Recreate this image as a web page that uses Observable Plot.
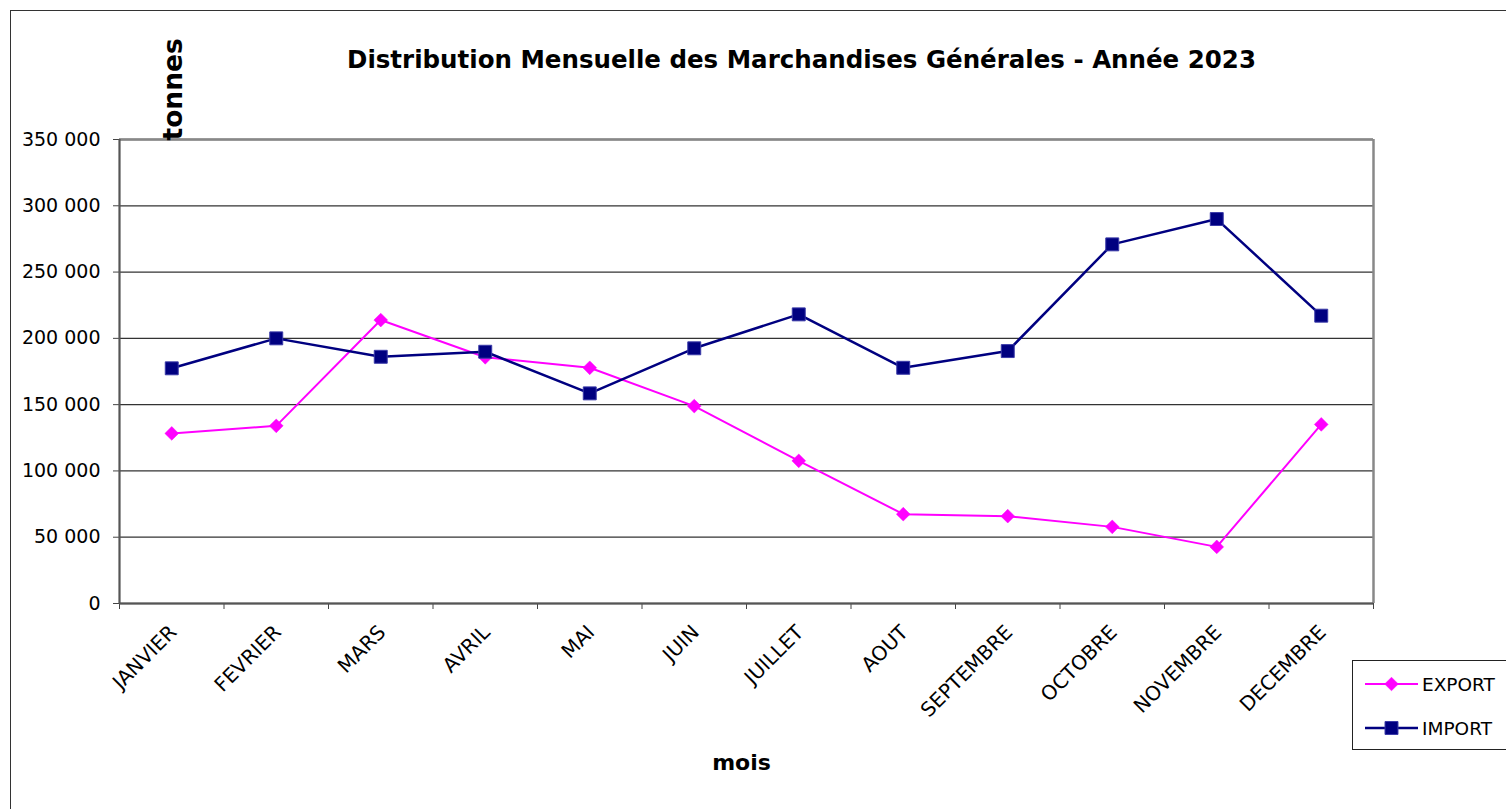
<!DOCTYPE html>
<html><head><meta charset="utf-8">
<script src="https://cdn.jsdelivr.net/npm/d3@7"></script>
<script src="https://cdn.jsdelivr.net/npm/@observablehq/plot@0.6"></script>
<style>
html,body{margin:0;padding:0;background:#fff;overflow:hidden;width:1506px;height:809px;font-family:"DejaVu Sans",sans-serif;}
#frame{position:absolute;left:10px;top:10px;width:1600px;height:900px;border:1px solid #333;}
#chart{position:absolute;left:0;top:0;}
#legend{position:absolute;left:1352px;top:660px;width:170px;height:88px;border:1px solid #222;background:#fff;}
</style></head><body>
<div id="frame"></div><div id="chart"></div><div id="legend"></div>
<script>
const months = ["JANVIER","FEVRIER","MARS","AVRIL","MAI","JUIN","JUILLET","AOUT","SEPTEMBRE","OCTOBRE","NOVEMBRE","DECEMBRE"];
const exportValues = [128300,134000,213800,185700,177800,148900,107600,67400,65900,57800,42700,135100];
const importValues = [177400,200000,186100,189900,158500,192500,218100,177800,190400,270900,290000,217100];
const yTicks = [0,50000,100000,150000,200000,250000,300000,350000];
const seriesNames = ["EXPORT","IMPORT"];
const seriesColors = ["#FF00FF","#000080"];
const chartTitle = "Distribution Mensuelle des Marchandises Générales - Année 2023";
const yLabel = "tonnes";
const xLabel = "mois";

const fmt = v => d3.format(",")(v).replace(/,/g, " ");
const exportRows = months.map((m,i)=>({month:m, pos:i+0.5, value:exportValues[i]}));
const importRows = months.map((m,i)=>({month:m, pos:i+0.5, value:importValues[i]}));

const chart = Plot.plot({
  width:1506, height:809,
  marginLeft:119, marginTop:139, marginRight:133, marginBottom:206,
  style:{fontFamily:"'DejaVu Sans', sans-serif", background:"transparent", overflow:"visible", color:"#000"},
  x:{type:"linear", domain:[0, months.length]},
  y:{domain:[0, 350000]},
  marks:[
    Plot.gridY(yTicks, {stroke:"#333", strokeOpacity:1, strokeWidth:1.3}),
    Plot.ruleY([350000], {stroke:"#888", strokeWidth:2.5}),
    Plot.ruleX([months.length], {stroke:"#888", strokeWidth:2.5}),
    Plot.axisY({ticks:yTicks, tickFormat:fmt, tickSize:6, tickPadding:13, fontSize:19, label:null, stroke:"#444"}),
    Plot.axisX({ticks:d3.range(months.length+1), tickFormat:()=>"", tickSize:6, label:null, stroke:"#444"}),
    Plot.ruleX([0], {stroke:"#555", strokeWidth:2.2}),
    Plot.ruleY([0], {stroke:"#555", strokeWidth:2.2}),
    Plot.text(months, {x:(d,i)=>i+0.5, text:d=>d, frameAnchor:"bottom", rotate:-45, textAnchor:"end", lineAnchor:"bottom", dx:6, dy:30, fontSize:20, fill:"#000"}),
    Plot.line(exportRows, {x:"pos", y:"value", stroke:seriesColors[0], strokeWidth:2}),
    Plot.line(importRows, {x:"pos", y:"value", stroke:seriesColors[1], strokeWidth:2.5}),
    Plot.dot(exportRows, {x:"pos", y:"value", symbol:"diamond2", r:6.2, fill:seriesColors[0], stroke:seriesColors[0], strokeWidth:0.5}),
    Plot.dot(importRows, {x:"pos", y:"value", symbol:"square", r:7.3, fill:seriesColors[1], stroke:"#3a3aa8", strokeWidth:1}),
    Plot.text([chartTitle], {text:d=>d, frameAnchor:"top", textAnchor:"middle", lineAnchor:"bottom", dx:55, dy:-72, fontSize:24.5, fontWeight:"bold", fill:"#000"}),
    Plot.text([yLabel], {text:d=>d, frameAnchor:"top-left", rotate:-90, textAnchor:"start", lineAnchor:"bottom", dx:62, dy:1, fontSize:26.5, fontWeight:"bold", fill:"#000"}),
    Plot.text([xLabel], {text:d=>d, frameAnchor:"bottom", textAnchor:"middle", lineAnchor:"bottom", dx:-5, dy:166, fontSize:22, fontWeight:"bold", fill:"#000"})
  ]
});
document.getElementById("chart").append(chart);

// legend
const leg = d3.select("#legend").append("svg").attr("width",170).attr("height",88)
  .style("font-family","'DejaVu Sans', sans-serif");
const symbols = [d3.symbolDiamond2, d3.symbolSquare];
const sizes = [118, 168];
seriesNames.forEach((name,i)=>{
  const y = 23 + i*44;
  leg.append("line").attr("x1",12).attr("x2",65).attr("y1",y).attr("y2",y)
    .attr("stroke",seriesColors[i]).attr("stroke-width",i?2.5:2);
  leg.append("path").attr("d",d3.symbol(symbols[i],sizes[i])()).attr("transform",`translate(38.5,${y})`)
    .attr("fill",seriesColors[i]).attr("stroke",i?"#3a3aa8":seriesColors[i]).attr("stroke-width",i?1:0.5);
  leg.append("text").attr("x",69).attr("y",y).attr("dy","0.36em").attr("font-size",18.5).attr("fill","#000").text(name);
});
</script>
</body></html>
